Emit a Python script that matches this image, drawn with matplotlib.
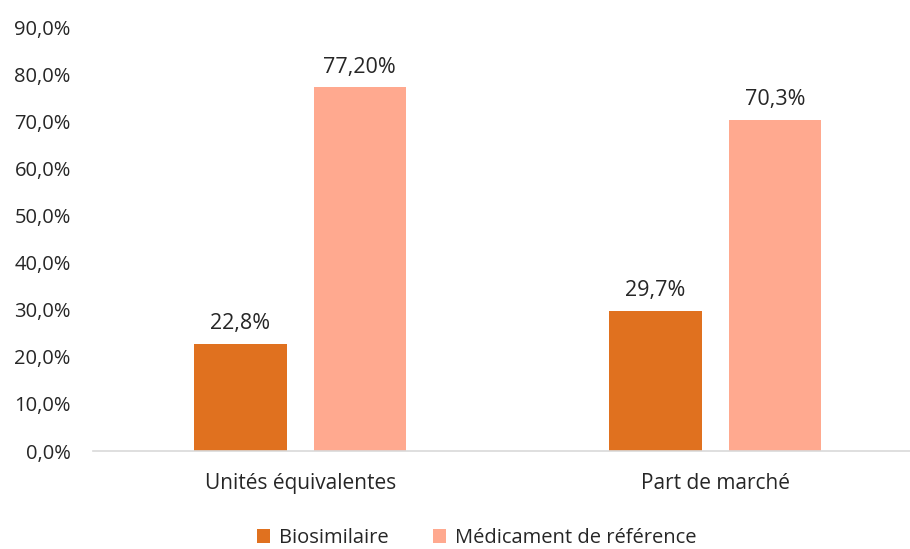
import matplotlib.pyplot as plt
import numpy as np

categories = ['Unités équivalentes', 'Part de marché']
series_names = ['Biosimilaire', 'Médicament de référence']
biosimilaire = [22.8, 29.7]
reference = [77.2, 70.3]
bar_labels = [['22,8%', '29,7%'], ['77,20%', '70,3%']]
y_ticks = [0, 10, 20, 30, 40, 50, 60, 70, 80, 90]

plt.rcParams['font.family'] = ['Open Sans', 'DejaVu Sans']
text_color = '#262626'
colors = ['#E0711F', '#FFA98F']

fig = plt.figure(figsize=(9.1, 5.49), dpi=100)
ax = fig.add_axes([93 / 910, 98 / 549, 817 / 910, 424 / 549])

x = np.arange(len(categories))
width = 0.222
offsets = [-0.1446, 0.143]

for values, offset, color, name, labels in zip([biosimilaire, reference], offsets, colors,
                                                series_names, bar_labels):
    bars = ax.bar(x + offset, values, width, color=color, label=name)
    for bar, text in zip(bars, labels):
        ax.annotate(text, (bar.get_x() + bar.get_width() / 2, bar.get_height()),
                    xytext=(0, 7), textcoords='offset points', ha='center', va='bottom',
                    fontsize=15.5, color=text_color)

ax.set_xlim(-0.5, -0.5 + 817 / 415)
ax.set_ylim(0, 90)
ax.set_yticks(y_ticks)
ax.set_yticklabels([f'{t:.1f}%'.replace('.', ',') for t in y_ticks])
ax.set_xticks(x)
ax.set_xticklabels(categories)
ax.tick_params(axis='y', length=0, labelsize=14.5, labelcolor=text_color, pad=16)
ax.tick_params(axis='x', length=0, labelsize=15, labelcolor=text_color, pad=16)

for side in ['top', 'right', 'left']:
    ax.spines[side].set_visible(False)
ax.spines['bottom'].set_color('#D9D9D9')
ax.spines['bottom'].set_linewidth(1.2)

leg = fig.legend(loc='center', bbox_to_anchor=(477 / 910, 11 / 549), ncol=2, frameon=False,
                 fontsize=14.5, handlelength=0.65, handleheight=0.65, handletextpad=0.45,
                 columnspacing=2.2)
for t in leg.get_texts():
    t.set_color(text_color)

fig.savefig('out.png', dpi=100, facecolor='white')
